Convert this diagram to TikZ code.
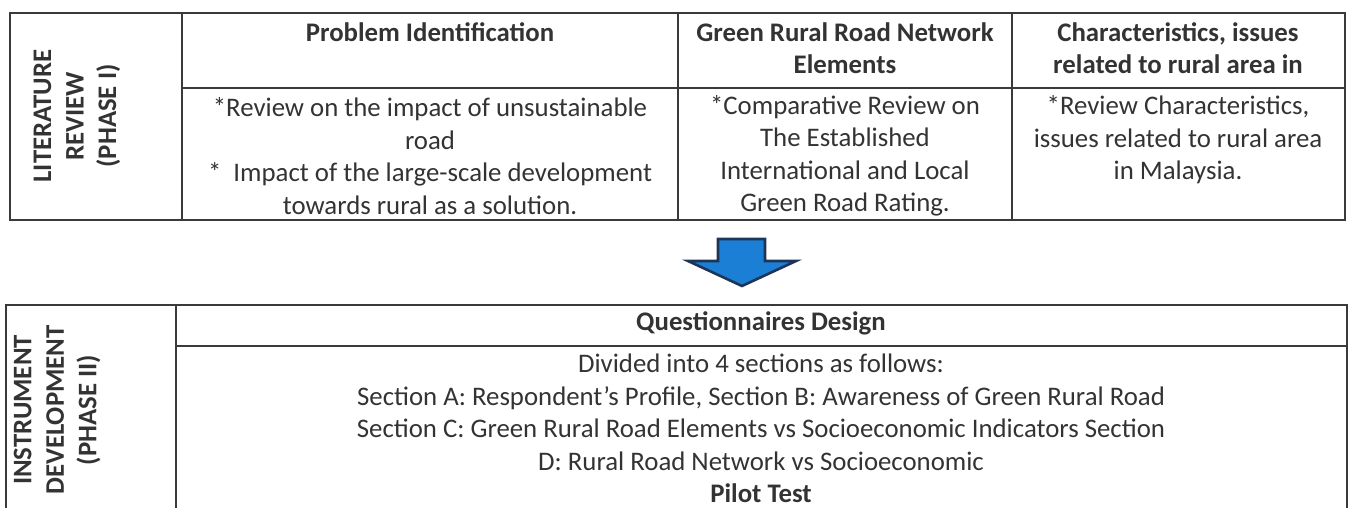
\documentclass[tikz,border=0pt]{standalone}
\usepackage{fontspec}
\setmainfont{Carlito}
\definecolor{txt}{HTML}{333333}
\definecolor{rule}{HTML}{3A3A3A}
\definecolor{arrowfill}{HTML}{1C7FD6}
\definecolor{arrowline}{HTML}{1E3558}
\begin{document}
\begin{tikzpicture}[x=1pt,y=-1pt,
  cell/.style={font=\fontsize{26.8}{32.5}\selectfont, align=center, text=txt, inner sep=0pt},
  hdr/.style={cell, font=\fontsize{26.8}{32.5}\selectfont\bfseries},
  side/.style={hdr, rotate=90},
  gridline/.style={draw=rule, line width=1.6pt}]
\useasboundingbox (0,0) rectangle (1349,508);
% top table
\draw[gridline] (10,13) rectangle (1345,220);
\draw[gridline] (182,13) -- (182,220);
\draw[gridline] (678,13) -- (678,220);
\draw[gridline] (1012,13) -- (1012,220);
\draw[gridline] (182,88) -- (1345,88);
\node[side] (lit) at (77,116) {LITERATURE\\REVIEW\\(PHASE I)};
\node[hdr] (h1) at (430,32) {Problem Identification};
\node[hdr] (h2) at (845,48) {Green Rural Road Network\\Elements};
\node[hdr] (h3) at (1178,48) {Characteristics, issues\\related to rural area in};
\node[cell] (b1) at (430,156) {*Review on the impact of unsustainable\\road\\*\ \ Impact of the large-scale development\\towards rural as a solution.};
\node[cell] (b2) at (845,156) {*Comparative Review on\\The Established\\International and Local\\Green Road Rating.};
\node[cell] (b3) at (1178,140) {*Review Characteristics,\\issues related to rural area\\in Malaysia.};
% arrow
\filldraw[fill=arrowfill, draw=arrowline, line width=2.6pt, line join=miter]
  (718,239) -- (765,239) -- (765,261) -- (796,261) -- (742,286) -- (688,261) -- (718,261) -- cycle;
% bottom table
\draw[gridline] (6,512) -- (6,305) -- (1347,305) -- (1347,512);
\draw[gridline] (176,305) -- (176,512);
\draw[gridline] (176,346) -- (1347,346);
\node[side] (inst) at (57,410) {INSTRUMENT\\DEVELOPMENT\\(PHASE II)};
\node[hdr] (qh) at (761,323) {Questionnaires Design};
\node[cell] (qb) at (761,428.5) {Divided into 4 sections as follows:\\Section A: Respondent’s Profile, Section B: Awareness of Green Rural Road\\Section C: Green Rural Road Elements vs Socioeconomic Indicators Section\\D: Rural Road Network vs Socioeconomic\\\textbf{Pilot Test}};
\end{tikzpicture}
\end{document}
